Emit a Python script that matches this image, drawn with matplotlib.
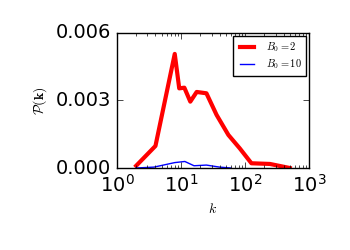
import matplotlib
matplotlib.use("Agg")
import matplotlib.pyplot as plt

plt.style.use("classic")

# data
k_b2 = [2, 4, 8, 9.4, 11.3, 14, 17.6, 25, 36, 55, 83, 126, 245, 500]
p_b2 = [0.0001, 0.00098, 0.00507, 0.00354, 0.00357, 0.00295, 0.00338,
        0.00332, 0.00236, 0.00147, 0.00087, 0.00021, 0.00018, 0.0]

k_b10 = [2, 3.8, 8, 11.5, 16, 25, 40, 60]
p_b10 = [0.0, 0.00004, 0.00024, 0.00029, 0.0001, 0.00013, 0.00004, 0.0]

y_ticks = [0, 0.003, 0.006]
y_labels = ["0.000", "0.003", "0.006"]

fig = plt.figure(figsize=(3.5, 2.5), dpi=100)
fig.patch.set_facecolor("white")
ax = fig.add_axes([0.334, 0.328, 0.549, 0.54])

ax.plot(k_b2, p_b2, color="red", lw=3, label=r"$B_0=2$")
ax.plot(k_b10, p_b10, color="blue", lw=1, label=r"$B_0=10$")

ax.set_xscale("log")
ax.set_xlim(1, 1000)
ax.set_ylim(0, 0.006)
ax.set_yticks(y_ticks)
ax.set_yticklabels(y_labels)
ax.tick_params(labelsize=14)

ax.set_xlabel(r"$k$", fontsize=10)
ax.set_ylabel(r"$\mathcal{P}(\mathbf{k})$", fontsize=10)

ax.legend(loc="upper right", fontsize=7.5, handlelength=2.0,
          labelspacing=0.35, borderaxespad=0.3)

fig.savefig("out.png", dpi=100, facecolor="white")
